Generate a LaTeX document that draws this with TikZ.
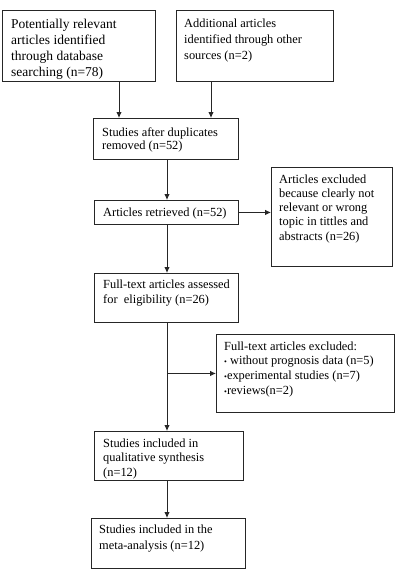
\documentclass[tikz,border=0pt]{standalone}
\usepackage{fontspec}
\setmainfont{Liberation Serif}
\usetikzlibrary{arrows.meta}
\newcommand{\txtlines}[3]{\parbox[t]{220pt}{\fontsize{#1}{#2}\selectfont #3}}
\begin{document}
\begin{tikzpicture}[x=1pt,y=-1pt,
 frame/.style={draw=black!85, line width=0.9pt, anchor=north west, inner sep=0pt},
 txt/.style={anchor=base west, inner sep=0pt},
 arr/.style={draw=black!85, line width=0.9pt, -{Latex[length=6pt,width=5.5pt]}},
 ln/.style={draw=black!85, line width=0.9pt}]
\useasboundingbox[fill=white] (0,0) rectangle (400,576);
% boxes
\node[frame, minimum width=153pt, minimum height=71pt] (b1) at (2,10) {};
\node[frame, minimum width=157pt, minimum height=71pt] (b2) at (176,10) {};
\node[frame, minimum width=145pt, minimum height=41pt] (b3) at (93,118) {};
\node[frame, minimum width=144pt, minimum height=24pt] (b4) at (94,200) {};
\node[frame, minimum width=121pt, minimum height=99pt] (b5) at (271,167) {};
\node[frame, minimum width=144pt, minimum height=49pt] (b6) at (94,273) {};
\node[frame, minimum width=178pt, minimum height=78pt] (b8) at (216,334) {};
\node[frame, minimum width=149pt, minimum height=49pt] (b7) at (94,431) {};
\node[frame, minimum width=154pt, minimum height=50pt] (b9) at (91,518) {};
% texts
\node[txt] (t1) at (11,28) {\txtlines{13.5}{16.3}{Potentially relevant\\articles identified\\through database\\searching (n=78)}};
\node[txt] (t2) at (184,27) {\txtlines{12.4}{16}{Additional articles\\identified through other\\sources (n=2)}};
\node[txt] (t3) at (102,136) {\txtlines{12.4}{13.6}{Studies after duplicates\\removed (n=52)}};
\node[txt] (t4) at (103,216) {\txtlines{12.4}{14.5}{Articles retrieved (n=52)}};
\node[txt] (t5) at (279,183) {\txtlines{12.4}{14.3}{Articles excluded\\because clearly not\\relevant or wrong\\topic in tittles and\\abstracts (n=26)}};
\node[txt] (t6) at (103,288) {\txtlines{12.4}{15}{Full-text articles assessed\\for~~eligibility (n=26)}};
\node[txt] (t8) at (224,350) {\txtlines{12.4}{14.7}{Full-text articles excluded:\\{\footnotesize\textbullet} without prognosis data (n=5)\\{\footnotesize\textbullet}experimental studies (n=7)\\{\footnotesize\textbullet}reviews(n=2)}};
\node[txt] (t7) at (103,447) {\txtlines{12.4}{14.6}{Studies included in\\qualitative synthesis\\(n=12)}};
\node[txt] (t9) at (99,533) {\txtlines{12.4}{16}{Studies included in the\\meta-analysis (n=12)}};
% connectors
\coordinate (c1) at (119,0);
\coordinate (c2) at (211,0);
\coordinate (sp) at (167,0);
\draw[arr] (b1.south -| c1) -- (b3.north -| c1);
\draw[arr] (b2.south -| c2) -- (b3.north -| c2);
\draw[arr] (b3.south -| sp) -- (b4.north -| sp);
\draw[arr] (b4.east) -- (b4.east -| b5.west);
\draw[arr] (b4.south -| sp) -- (b6.north -| sp);
\draw[arr] (b6.south -| sp) -- (b7.north -| sp);
\draw[arr] (b8.west -| sp) -- (b8.west);
\draw[arr] (b7.south -| sp) -- (b9.north -| sp);
\end{tikzpicture}
\end{document}
